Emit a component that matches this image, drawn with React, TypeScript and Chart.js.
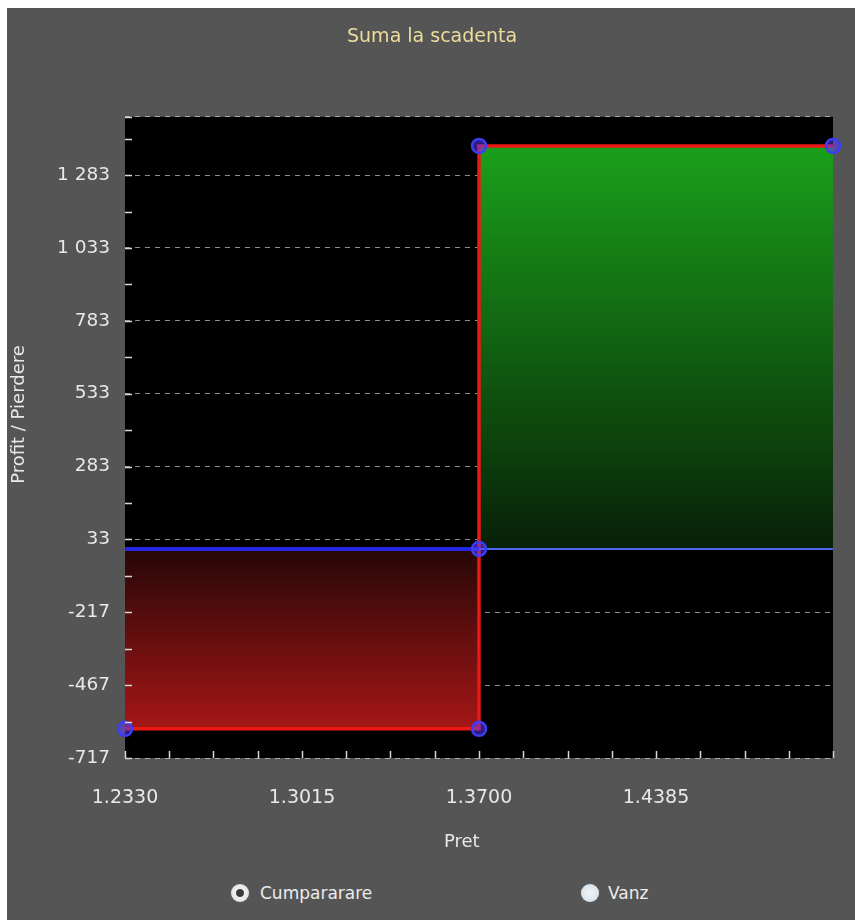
import { useEffect, useRef } from 'react';
import { Chart, registerables } from 'chart.js';

Chart.register(...registerables);

// ---- data ----
const chartTitle = 'Suma la scadenta';
const yTitle = 'Profit / Pierdere';
const xTitle = 'Pret';
const radioOptions = ['Cumpararare', 'Vanz'];
const radioSelected = 0;

const payoffX = [1.233, 1.37, 1.37, 1.507];
const payoffY = [-617, -617, 1383, 1383];

const markerX = [1.233, 1.37, 1.37, 1.37, 1.507];
const markerY = [-617, -617, 0, 1383, 1383];

const zeroLineX = [1.233, 1.37, 1.507];
const zeroLineY = [0, 0, 0];

const yMin = -717;
const yMax = 1483;
const yMajorTicks = [-717, -467, -217, 33, 283, 533, 783, 1033, 1283];
const yMinorTicks = [-592, -342, -92, 158, 408, 658, 908, 1158, 1408, 1483];

const xMin = 1.233;
const xMax = 1.507;
const xMajorTicks = [1.233, 1.3015, 1.37, 1.4385];
const xMinorTicks = [
  1.250125, 1.26725, 1.284375, 1.318625, 1.33575, 1.352875, 1.387125, 1.40425,
  1.421375, 1.455625, 1.47275, 1.489875, 1.507,
];

const FONT = 'DejaVu Sans';

const near = (a: number, b: number) => Math.abs(a - b) < 1e-9;
const isIn = (arr: number[], v: number) => arr.some((a) => near(a, v));

const fmtThousands = (v: number) => {
  const s = Math.abs(v)
    .toString()
    .replace(/\B(?=(\d{3})+(?!\d))/g, ' ');
  return (v < 0 ? '-' : '') + s;
};

const innerTicks = {
  id: 'innerTicks',
  afterDraw(chart: any) {
    const { ctx, chartArea } = chart;
    const xs = chart.scales.x;
    const ys = chart.scales.y;
    ctx.save();
    ctx.strokeStyle = '#d8d8d8';
    ctx.lineWidth = 1.5;
    ctx.beginPath();
    xs.ticks.forEach((t: any) => {
      const px = Math.round(xs.getPixelForValue(t.value)) + 0.5;
      ctx.moveTo(px, chartArea.bottom);
      ctx.lineTo(px, chartArea.bottom - 7);
    });
    ys.ticks.forEach((t: any) => {
      const py = Math.round(ys.getPixelForValue(t.value)) + 0.5;
      ctx.moveTo(chartArea.left, py);
      ctx.lineTo(chartArea.left + 7, py);
    });
    ctx.stroke();
    ctx.restore();
  },
};

const toPts = (xs: number[], ys: number[]) => xs.map((x, i) => ({ x, y: ys[i] }));

export default function App() {
  const ref = useRef<HTMLCanvasElement | null>(null);

  useEffect(() => {
    if (!ref.current) return;
    const lossMin = Math.min(...payoffY);
    const profitMax = Math.max(...payoffY);

    const lossFill = (c: any) => {
      const chart = c.chart;
      if (!chart.chartArea) return 'rgba(0,0,0,0)';
      const y = chart.scales.y;
      const g = chart.ctx.createLinearGradient(0, y.getPixelForValue(0), 0, y.getPixelForValue(lossMin));
      g.addColorStop(0, 'rgb(38,7,7)');
      g.addColorStop(1, 'rgb(165,22,22)');
      return g;
    };
    const profitFill = (c: any) => {
      const chart = c.chart;
      if (!chart.chartArea) return 'rgba(0,0,0,0)';
      const y = chart.scales.y;
      const g = chart.ctx.createLinearGradient(0, y.getPixelForValue(0), 0, y.getPixelForValue(profitMax));
      g.addColorStop(0, 'rgb(8,32,8)');
      g.addColorStop(1, 'rgb(26,160,26)');
      return g;
    };

    const chart = new Chart(ref.current, {
      type: 'line',
      data: {
        datasets: [
          {
            label: 'markers',
            data: toPts(markerX, markerY),
            showLine: false,
            pointRadius: 7,
            pointBorderWidth: 2.5,
            pointBorderColor: '#3c3cf5',
            pointBackgroundColor: 'rgba(90,60,255,0.5)',
            clip: false,
            order: 0,
          },
          {
            label: 'zero',
            data: toPts(zeroLineX, zeroLineY),
            pointRadius: 0,
            borderColor: '#2a2ae8',
            borderWidth: 3,
            segment: {
              borderColor: (c: any) => (c.p0DataIndex === 0 ? '#2626e6' : '#4a68f0'),
              borderWidth: (c: any) => (c.p0DataIndex === 0 ? 4 : 2),
            },
            order: 1,
          },
          {
            label: 'payoff',
            data: toPts(payoffX, payoffY),
            pointRadius: 0,
            borderColor: 'rgb(235,25,20)',
            borderWidth: 3.5,
            order: 2,
          },
          {
            label: 'loss',
            data: toPts(payoffX.slice(0, 2), payoffY.slice(0, 2)),
            pointRadius: 0,
            borderWidth: 0,
            fill: 'origin',
            backgroundColor: lossFill,
            order: 3,
          },
          {
            label: 'profit',
            data: toPts(payoffX.slice(2), payoffY.slice(2)),
            pointRadius: 0,
            borderWidth: 0,
            fill: 'origin',
            backgroundColor: profitFill,
            order: 4,
          },
        ],
      },
      options: {
        animation: false,
        responsive: true,
        maintainAspectRatio: false,
        layout: { padding: { left: 0, right: 22, top: 0, bottom: 0 } },
        plugins: {
          legend: { display: false },
          tooltip: { enabled: false },
          title: {
            display: true,
            text: '    ' + chartTitle,
            color: '#eedc9c',
            font: { family: FONT, size: 19, weight: 'normal' },
            padding: { top: 18, bottom: 68 },
          },
        },
        scales: {
          x: {
            type: 'linear',
            min: xMin,
            max: xMax,
            afterBuildTicks: (s: any) => {
              s.ticks = [...xMajorTicks, ...xMinorTicks].sort((a, b) => a - b).map((v) => ({ value: v }));
            },
            afterFit: (s: any) => {
              s.height = 120;
              s.paddingLeft = 0;
              s.paddingRight = 0;
            },
            grid: { display: false, drawTicks: false },
            border: { display: false },
            ticks: {
              autoSkip: false,
              maxRotation: 0,
              padding: 29,
              color: '#e8e8e8',
              font: { family: FONT, size: 19 },
              callback: (v: any) => (isIn(xMajorTicks, Number(v)) ? Number(v).toFixed(4) : ''),
            },
            title: {
              display: true,
              text: xTitle + '      ',
              color: '#e8e8e8',
              font: { family: FONT, size: 18 },
              padding: { top: 0, bottom: 25 },
            },
          },
          y: {
            type: 'linear',
            min: yMin,
            max: yMax,
            z: 1,
            afterBuildTicks: (s: any) => {
              s.ticks = [...yMajorTicks, ...yMinorTicks].sort((a, b) => a - b).map((v) => ({ value: v }));
            },
            afterFit: (s: any) => {
              s.width = 118;
            },
            grid: {
              drawTicks: false,
              lineWidth: 1,
              color: (c: any) =>
                c.tick && (isIn(yMajorTicks, c.tick.value) || near(c.tick.value, yMax))
                  ? 'rgba(235,235,235,0.6)'
                  : 'rgba(0,0,0,0)',
            },
            border: { display: false, dash: [5, 5] },
            ticks: {
              autoSkip: false,
              padding: 15,
              color: '#e8e8e8',
              font: { family: FONT, size: 18.5 },
              callback: (v: any) => (isIn(yMajorTicks, Number(v)) ? fmtThousands(Number(v)) : ''),
            },
            title: {
              display: true,
              text: '        ' + yTitle,
              color: '#e8e8e8',
              font: { family: FONT, size: 18 },
              padding: { top: 2, bottom: 0 },
            },
          },
        },
      },
      plugins: [
        innerTicks,
        {
          id: 'plotBg',
          beforeDraw(chart: any) {
            const { ctx, chartArea: a } = chart;
            ctx.save();
            ctx.fillStyle = '#000';
            ctx.fillRect(a.left, a.top, a.right - a.left, a.bottom - a.top);
            ctx.restore();
          },
        },
      ],
    } as any);
    return () => chart.destroy();
  }, []);

  const radioPos = [
    { cx: 233, tx: 253 },
    { cx: 583, tx: 601 },
  ];

  return (
    <div
      style={{
        position: 'fixed',
        left: 7,
        top: 8,
        width: 848,
        height: 912,
        background: '#555555',
        fontFamily: FONT,
      }}
    >
      <div style={{ position: 'absolute', left: 0, top: 0, width: 848, height: 870 }}>
        <canvas ref={ref} />
      </div>
      {radioOptions.map((label, i) => (
        <div key={label}>
          <div
            style={{
              position: 'absolute',
              left: radioPos[i].cx - 9,
              top: 885 - 9,
              width: 18,
              height: 18,
              borderRadius: '50%',
              background:
                i === radioSelected
                  ? 'radial-gradient(circle, #3c3c3c 0 3.5px, #f2f2f2 4.5px, #d6d6d6 100%)'
                  : 'radial-gradient(circle, #eef3f8 0, #d3dde6 100%)',
              boxShadow: '0 0 1px #999',
            }}
          />
          <div
            style={{
              position: 'absolute',
              left: radioPos[i].tx,
              top: 885 - 12,
              height: 24,
              lineHeight: '24px',
              fontSize: 17,
              color: '#ececec',
              whiteSpace: 'nowrap',
            }}
          >
            {label}
          </div>
        </div>
      ))}
    </div>
  );
}
